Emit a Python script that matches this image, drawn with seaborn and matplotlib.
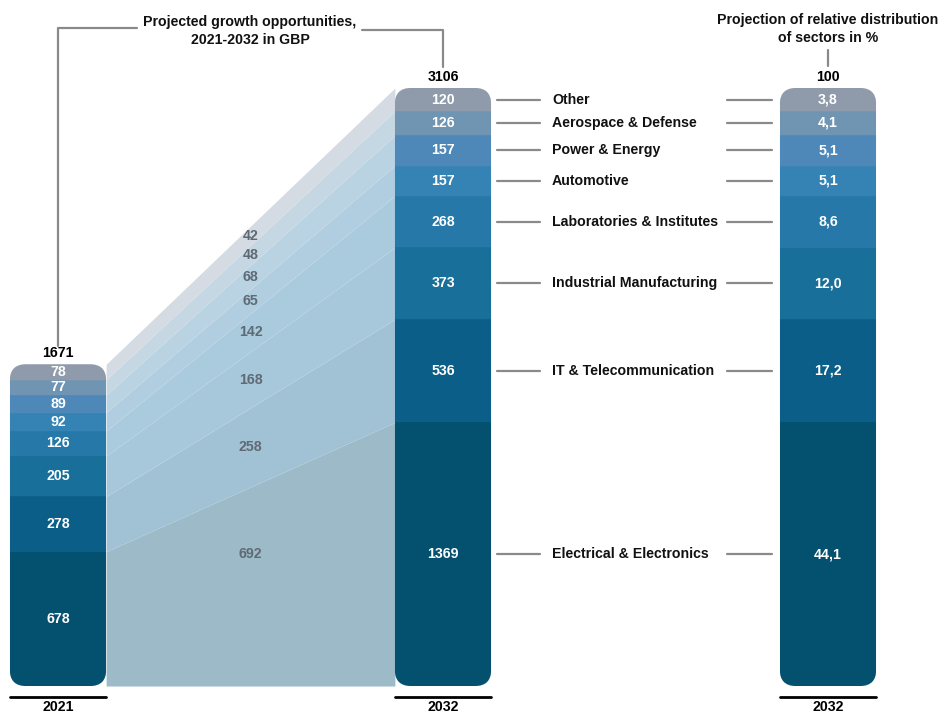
import numpy as np
import matplotlib
matplotlib.use("Agg")
import matplotlib.pyplot as plt
from matplotlib.patches import FancyBboxPatch
import seaborn as sns

sns.set_theme(style="white")
plt.rcParams['font.family'] = ['Liberation Sans', 'DejaVu Sans']

# ---------------- data (bottom to top) ----------------
sectors = ["Electrical & Electronics", "IT & Telecommunication", "Industrial Manufacturing",
           "Laboratories & Institutes", "Automotive", "Power & Energy",
           "Aerospace & Defense", "Other"]
values_2021 = [678, 278, 205, 126, 92, 89, 77, 78]
values_2032 = [1369, 536, 373, 268, 157, 157, 126, 120]
growth = [692, 258, 168, 142, 65, 68, 48, 42]
share_2032 = [44.1, 17.2, 12.0, 8.6, 5.1, 5.1, 4.1, 3.8]
share_labels = ["44,1", "17,2", "12,0", "8,6", "5,1", "5,1", "4,1", "3,8"]
total_2021 = 1671
total_2032 = 3106
total_share = 100
years = ["2021", "2032", "2032"]
title_left = "Projected growth opportunities,\n2021-2032 in GBP"
title_right = "Projection of relative distribution\nof sectors in %"

bar_colors = ["#03506f", "#0b5e87", "#186f99", "#2578a7", "#3583b4", "#4e88b8", "#7095b3", "#8f9bab"]
band_colors = ["#9cbac7", "#a1c2d5", "#a7c8db", "#aacbdd", "#b0cee0", "#b9d3e3", "#c5d7e3", "#d4dbe3"]

# ---------------- layout ----------------
W, H = 944, 715
fig = plt.figure(figsize=(W / 100, H / 100), dpi=100)
ax = fig.add_axes([0, 0, 1, 1])
px_per_x = 385.0
px_per_y = 598.0 / total_2032
x0_px, base_px = 58.0, 686.0
ax.set_xlim(-x0_px / px_per_x, (W - x0_px) / px_per_x)
ax.set_ylim(-(H - base_px) / px_per_y, base_px / px_per_y)
ax.axis("off")

bw = 0.25
xs = [0, 1, 2]
aspect = px_per_x / px_per_y
rr = 16 / px_per_x
FS = 10.2


def stack(ax, x, vals, scale, labels):
    vals = np.array(vals, float) * scale
    bottoms = np.concatenate([[0], np.cumsum(vals)[:-1]])
    clip = FancyBboxPatch((x - bw / 2, 0), bw, vals.sum(),
                          boxstyle=f"round,pad=0,rounding_size={rr}",
                          mutation_aspect=aspect, transform=ax.transData,
                          facecolor="none", edgecolor="none")
    ax.add_patch(clip)
    bars = ax.bar([x] * len(vals), vals, width=bw, bottom=bottoms,
                  color=bar_colors, edgecolor=bar_colors, linewidth=0.3)
    for b in bars:
        b.set_clip_path(clip)
    mids = bottoms + vals / 2
    for m, lab in zip(mids, labels):
        ax.text(x, m, lab, ha="center", va="center", color="white",
                fontsize=FS, fontweight="bold")
    return bottoms, vals, mids


s21 = total_2021 / sum(values_2021)
b21, v21, m21 = stack(ax, 0, values_2021, s21, [str(v) for v in values_2021])
b32, v32, m32 = stack(ax, 1, values_2032, 1.0, [str(v) for v in values_2032])
sp = total_2032 / total_share
bsh, vsh, msh = stack(ax, 2, share_2032, sp, share_labels)

# ---------------- flow bands ----------------
xl, xr = 0 + bw / 2, 1 - bw / 2
for i in range(len(sectors)):
    lo = [b21[i], b32[i]]
    hi = [b21[i] + v21[i], b32[i] + v32[i]]
    ax.fill_between([xl, xr], lo, hi, color=band_colors[i], linewidth=0, zorder=0.5)
    if i == 0:
        ylab = m32[i]
    else:
        ylab = (m21[i] + m32[i]) / 2
    ax.text((xl + xr) / 2, ylab, str(growth[i]), ha="center", va="center",
            color="#5f6a74", fontsize=FS, fontweight="bold")

# ---------------- sector connectors and labels ----------------
gray = "#8a8a8a"
for i, name in enumerate(sectors):
    y = m32[i]
    ax.plot([1 + bw / 2 + 0.015, 1 + bw / 2 + 0.127], [y, y], color=gray, lw=1.6)
    ax.text(1 + bw / 2 + 0.158, y, name, ha="left", va="center",
            fontsize=FS, fontweight="bold", color="#111111")
    ax.plot([2 - bw / 2 - 0.137, 2 - bw / 2 - 0.02], [y, y], color=gray, lw=1.6)

# ---------------- totals, brackets, titles ----------------
def ypx(p):
    return (base_px - p) / px_per_y

def xpx(p):
    return (p - x0_px) / px_per_x

ax.text(0, v21.sum() + 4 / px_per_y, str(total_2021), ha="center", va="bottom",
        fontsize=FS, fontweight="bold", color="black")
ax.text(1, v32.sum() + 4 / px_per_y, str(total_2032), ha="center", va="bottom",
        fontsize=FS, fontweight="bold", color="black")
ax.text(2, vsh.sum() + 4 / px_per_y, str(total_share), ha="center", va="bottom",
        fontsize=FS, fontweight="bold", color="black")

ax.plot([0, 0, xpx(137)], [ypx(346), ypx(28), ypx(28)], color=gray, lw=1.6)
ax.plot([xpx(362), 1, 1], [ypx(30), ypx(30), ypx(67)], color=gray, lw=1.6)
ax.text(xpx(250), ypx(31), title_left, ha="center", va="center", fontsize=FS,
        fontweight="bold", color="#111111", linespacing=1.3)
ax.text(2, ypx(29), title_right, ha="center", va="center", fontsize=FS,
        fontweight="bold", color="#111111", linespacing=1.3)
ax.plot([2, 2], [ypx(50), ypx(66)], color=gray, lw=1.6)

# ---------------- baselines and years ----------------
for x, yr in zip(xs, years):
    ax.plot([x - bw / 2, x + bw / 2], [ypx(697), ypx(697)], color="black", lw=2)
    ax.text(x, ypx(714), yr, ha="center", va="bottom", fontsize=FS,
            fontweight="bold", color="black")

fig.savefig("out.png", dpi=100)
